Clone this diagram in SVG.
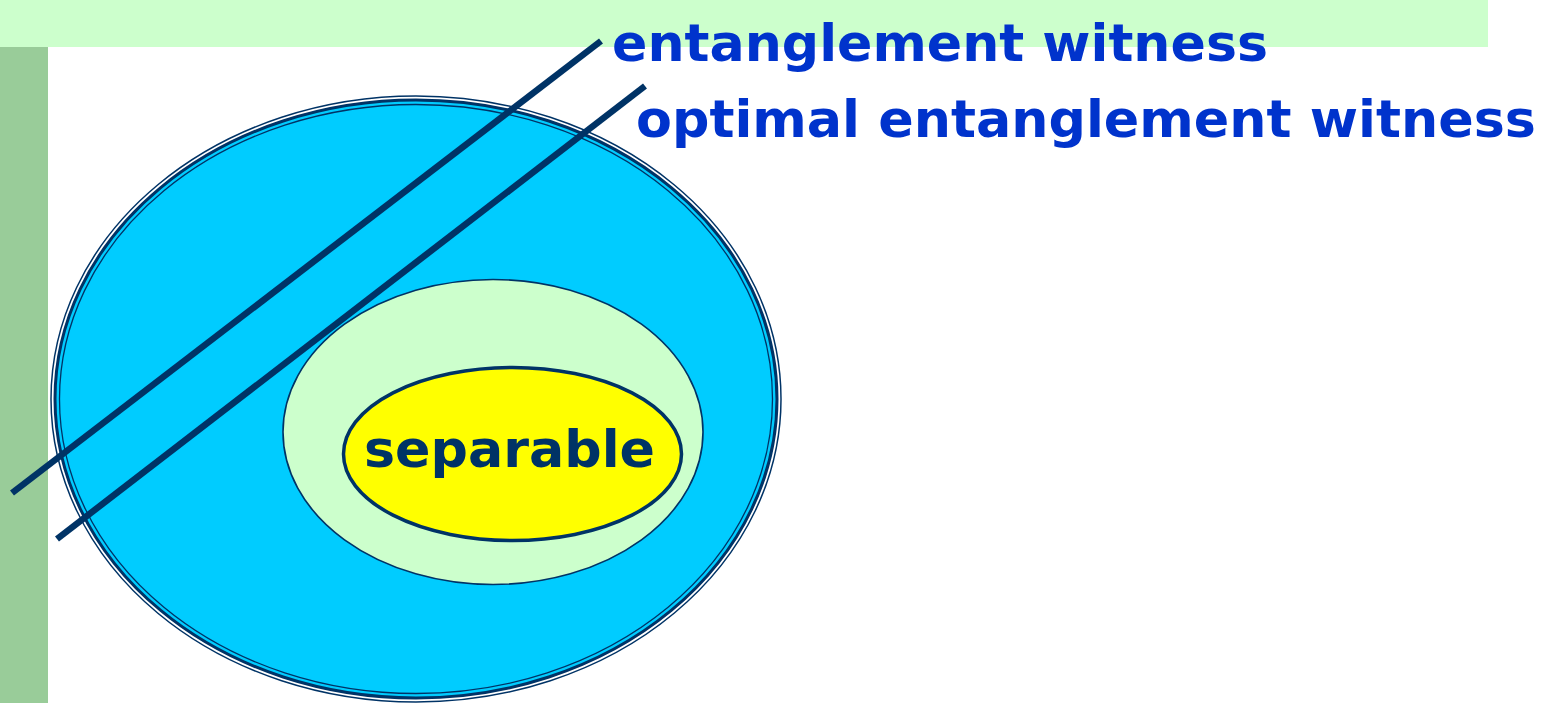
<svg xmlns="http://www.w3.org/2000/svg" width="1543" height="703" viewBox="0 0 1543 703">
<style>
.wit{stroke:#003366;stroke-width:6.5;fill:none}
.lbl{font-family:"Comic Sans MS","DejaVu Sans",sans-serif;font-weight:bold;fill:#0033CC;font-size:52px}
.sep{font-family:"DejaVu Sans","Verdana",sans-serif;font-weight:bold;fill:#003366;font-size:52px}
</style>
<rect x="0" y="0" width="1488" height="47" fill="#CCFFCC"/>
<rect x="0" y="47" width="48" height="656" fill="#99CC99"/>
<g id="entangled">
<ellipse cx="416" cy="399" rx="365" ry="303" fill="#FFFFFF" stroke="#003366" stroke-width="1.5"/>
<ellipse cx="416" cy="399" rx="361" ry="299" fill="#00CCFF" stroke="#003366" stroke-width="3"/>
<ellipse cx="416" cy="399" rx="356.5" ry="294.5" fill="none" stroke="#003366" stroke-width="1.3"/>
</g>
<g id="ppt">
<ellipse cx="493" cy="432" rx="210" ry="152.5" fill="#CCFFCC" stroke="#003366" stroke-width="1.6"/>
</g>
<g id="separable">
<ellipse cx="512.5" cy="454" rx="169" ry="86.5" fill="#FFFF00" stroke="#003366" stroke-width="3.5"/>
<text class="sep" x="364" y="467" textLength="291" lengthAdjust="spacingAndGlyphs">separable</text>
</g>
<g id="connectors">
<line class="wit" x1="12" y1="493" x2="601" y2="41"/>
<line class="wit" x1="57" y1="539" x2="645" y2="86"/>
</g>
<g id="labels">
<text class="lbl" x="612" y="61" textLength="656" lengthAdjust="spacingAndGlyphs">entanglement witness</text>
<text class="lbl" x="636" y="137" textLength="900" lengthAdjust="spacingAndGlyphs">optimal entanglement witness</text>
</g>
</svg>
